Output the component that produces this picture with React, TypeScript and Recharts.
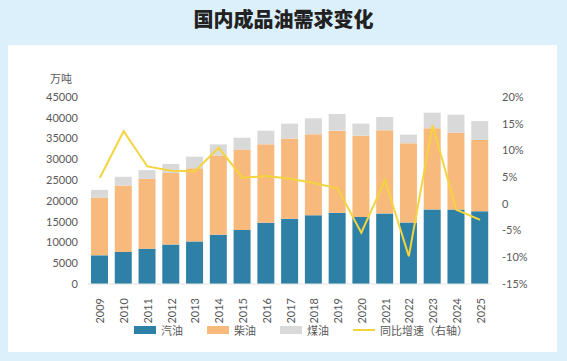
import {
  Bar,
  ComposedChart,
  Line,
  XAxis,
  YAxis,
} from "recharts";

const years = [
  "2009", "2010", "2011", "2012", "2013", "2014", "2015", "2016", "2017",
  "2018", "2019", "2020", "2021", "2022", "2023", "2024", "2025",
];
const gasoline = [
  6900, 7700, 8500, 9500, 10250, 11850, 12970, 14730, 15700, 16570, 17130,
  16100, 16970, 14800, 17930, 17930, 17530,
];
const diesel = [
  13900, 16000, 16800, 17200, 17600, 19050, 19380, 18870, 19300, 19460, 19770,
  19600, 20030, 19070, 19540, 18500, 17140,
];
const kerosene = [
  1850, 2100, 2100, 2200, 2800, 2700, 2850, 3300, 3600, 3840, 4000, 2900,
  3200, 2080, 3760, 4320, 4560,
];
const growth = [
  4.9, 13.6, 7.0, 6.2, 6.1, 10.5, 4.9, 5.2, 4.7, 3.9, 2.9, -5.4, 4.4, -9.8,
  14.7, -1.1, -3.0,
];
const leftTicks = [0, 5000, 10000, 15000, 20000, 25000, 30000, 35000, 40000, 45000];
const rightTicks = [-15, -10, -5, 0, 5, 10, 15, 20];

const BLUE = "#2f80a6";
const ORANGE = "#f8b97d";
const GRAY = "#d9d9d9";
const YELLOW = "#f4d43e";

const data = years.map((y, i) => ({
  year: y,
  gasoline: gasoline[i],
  diesel: diesel[i],
  kerosene: kerosene[i],
  growth: growth[i],
}));

const tickStyle = { fontSize: 11, fill: "#595959", fontFamily: "Lato, 'Noto Sans CJK SC', sans-serif" };

const legendItems = [
  { name: "汽油", color: BLUE, kind: "rect" },
  { name: "柴油", color: ORANGE, kind: "rect" },
  { name: "煤油", color: GRAY, kind: "rect" },
  { name: "同比增速（右轴）", color: YELLOW, kind: "line" },
];

function YearTick({ x, y, payload }: any) {
  return (
    <text
      x={x}
      y={y + 6}
      transform={`rotate(-90 ${x} ${y + 6})`}
      textAnchor="end"
      dominantBaseline="central"
      style={tickStyle}
      fill="#595959"
    >
      {payload.value}
    </text>
  );
}

export default function App() {
  return (
    <div
      style={{
        position: "absolute",
        left: 0,
        top: 0,
        width: 567,
        height: 361,
        background: "#dcf0fb",
        fontFamily: "'Noto Sans CJK SC', sans-serif",
      }}
    >
      <div
        style={{
          position: "absolute",
          left: 0,
          top: 4,
          width: 567,
          textAlign: "center",
          fontSize: 20,
          fontWeight: 900,
          color: "#222",
        }}
      >
        国内成品油需求变化
      </div>
      <div
        style={{
          position: "absolute",
          left: 8,
          top: 45,
          width: 549,
          height: 307,
          background: "#ffffff",
        }}
      />
      <div
        style={{
          position: "absolute",
          left: 50,
          top: 70,
          fontSize: 11,
          color: "#595959",
        }}
      >
        万吨
      </div>
      <div style={{ position: "absolute", left: 0, top: 0 }}>
        <ComposedChart
          width={567}
          height={361}
          data={data}
          margin={{ top: 97, right: 30, bottom: 37, left: 0 }}
          barSize={17}
        >
          <XAxis
            dataKey="year"
            interval={0}
            height={40}
            tick={<YearTick />}
            tickLine={false}
            axisLine={{ stroke: "#e3e3e3" }}
          />
          <YAxis
            yAxisId="left"
            width={88}
            domain={[0, 45000]}
            ticks={leftTicks}
            tick={tickStyle}
            tickLine={false}
            axisLine={false}
            tickMargin={4}
          />
          <YAxis
            yAxisId="right"
            orientation="right"
            width={45}
            domain={[-15, 20]}
            ticks={rightTicks}
            tick={{ ...tickStyle, textAnchor: "start" }}
            tickFormatter={(v: number) => (v === 0 ? "0" : `${v}%`)}
            tickLine={false}
            axisLine={false}
            tickMargin={4}
          />
          <Bar yAxisId="left" dataKey="gasoline" stackId="a" fill={BLUE} isAnimationActive={false} />
          <Bar yAxisId="left" dataKey="diesel" stackId="a" fill={ORANGE} isAnimationActive={false} />
          <Bar yAxisId="left" dataKey="kerosene" stackId="a" fill={GRAY} isAnimationActive={false} />
          <Line
            yAxisId="right"
            dataKey="growth"
            type="linear"
            stroke={YELLOW}
            strokeWidth={2}
            dot={false}
            isAnimationActive={false}
          />
        </ComposedChart>
      </div>
      <div
        style={{
          position: "absolute",
          left: 134,
          top: 322,
          display: "flex",
          alignItems: "center",
          fontSize: 11,
          color: "#595959",
        }}
      >
        {legendItems.map((it) => (
          <div key={it.name} style={{ display: "flex", alignItems: "center", marginRight: it.kind === "rect" ? 24 : 0 }}>
            <span
              style={{
                display: "inline-block",
                width: 22,
                height: it.kind === "rect" ? 8 : 2,
                background: it.color,
                marginRight: 5,
              }}
            />
            <span>{it.name}</span>
          </div>
        ))}
      </div>
    </div>
  );
}
